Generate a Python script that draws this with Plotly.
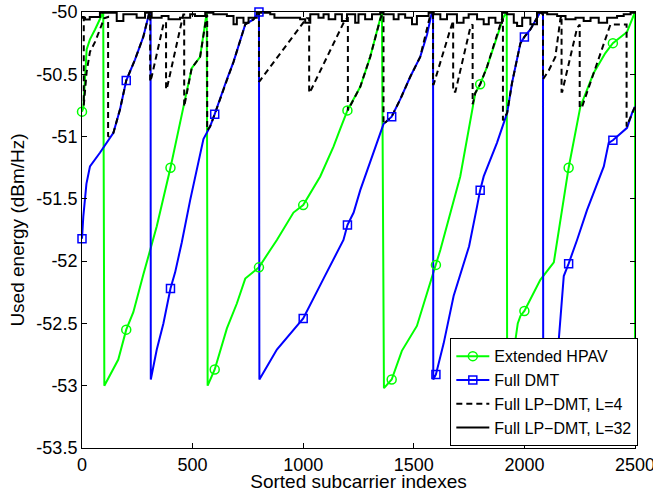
import plotly.graph_objects as go

# ---------------- data ----------------
hpav_x = [0, 6, 21, 36, 59, 96, 101, 164, 200, 232, 277, 338, 400, 458, 496, 534, 564,
          568, 600, 655, 700, 738, 800, 851, 881, 956, 1000, 1077, 1137, 1167, 1200, 1258, 1303, 1356,
          1365, 1400, 1446, 1514, 1560, 1600, 1620, 1710, 1778, 1800, 1831, 1906, 1920,
          1922, 1950, 1970, 1982, 2000, 2072, 2133, 2160, 2200, 2253, 2313, 2366, 2400, 2464, 2500, 2500]
hpav_y = [-50.8, -50.77, -50.3, -50.22, -50.14, -50.0, -53.0, -52.79, -52.55, -52.41, -52.11, -51.72, -51.25, -50.76, -50.45, -50.36, -50.0,
          -53.0, -52.87, -52.54, -52.34, -52.14, -52.05, -51.91, -51.83, -51.61, -51.55, -51.32, -51.08, -50.94, -50.79, -50.6, -50.36, -50.0,
          -53.02, -52.95, -52.72, -52.52, -52.26, -52.03, -51.91, -51.32, -50.65, -50.58, -50.44, -50.04, -50.0,
          -53.0, -52.75, -52.5, -52.44, -52.4, -52.15, -52.01, -51.7, -51.25, -50.76, -50.49, -50.33, -50.25, -50.16, -50.0, -53.0]

dmt_x = [0, 6, 20, 36, 81, 142, 172, 200, 240, 277, 305, 310,
         311, 338, 368, 400, 421, 451, 489, 549, 579, 600, 655, 685, 738, 775, 800,
         802, 881, 1000, 1092, 1152, 1182, 1200, 1228, 1258, 1318, 1363, 1400, 1439, 1484, 1529, 1560, 1582, 1587,
         1588, 1600, 1635, 1680, 1720, 1750, 1786, 1800, 1816, 1876, 1922, 1944, 1982, 2000, 2027, 2072, 2084,
         2085, 2120, 2155, 2178, 2200, 2238, 2283, 2359, 2381, 2400, 2464, 2487, 2500]
dmt_y = [-51.82, -51.64, -51.38, -51.24, -51.13, -50.97, -50.78, -50.55, -50.38, -50.2, -50.0, -50.0,
         -52.95, -52.71, -52.5, -52.22, -52.09, -51.85, -51.51, -51.02, -50.92, -50.82, -50.54, -50.4, -50.1, -50.06, -50.0,
         -52.95, -52.71, -52.46, -52.14, -51.93, -51.83, -51.71, -51.61, -51.43, -51.13, -50.9, -50.84, -50.7, -50.52, -50.36, -50.18, -50.0, -50.0,
         -52.95, -52.91, -52.66, -52.28, -52.05, -51.88, -51.56, -51.43, -51.32, -51.05, -50.81, -50.57, -50.25, -50.2, -50.14, -50.0, -50.0,
         -52.95, -52.83, -52.64, -52.12, -52.02, -51.83, -51.59, -51.24, -51.05, -51.03, -50.93, -50.81, -50.76]

lp4_x = [0, 8, 8, 21, 36, 59, 81, 100, 118, 118, 142, 172, 200, 240, 277, 305, 308,
         308, 315, 368, 380, 380, 383, 458, 462, 462, 496, 534, 564, 566,
         566, 579, 600, 655, 685, 738, 775, 800, 800, 805, 1015, 1027, 1027, 1037, 1190, 1202,
         1202, 1258, 1303, 1348, 1356, 1363, 1363, 1400, 1439, 1484, 1529, 1575, 1587,
         1587, 1590, 1665, 1678, 1678, 1688, 1756, 1766, 1766, 1778, 1800, 1831, 1900, 1903,
         1903, 1922, 1944, 1982, 2000, 2027, 2072, 2084, 2084, 2110, 2140, 2163, 2168,
         2168, 2171, 2238, 2250, 2250, 2261, 2389, 2462, 2462, 2487, 2500]
lp4_y = [-50.04, -50.04, -50.75, -50.48, -50.32, -50.24, -50.14, -50.05, -50.04, -51.0, -50.97, -50.78, -50.55, -50.38, -50.2, -50.0, -50.03,
         -50.56, -50.52, -50.1, -50.08, -50.62, -50.62, -50.02, -50.02, -50.76, -50.45, -50.36, -50.02, -50.03,
         -50.95, -50.92, -50.82, -50.54, -50.4, -50.1, -50.06, -50.0, -50.56, -50.55, -50.05, -50.05, -50.65, -50.62, -50.06, -50.05,
         -50.79, -50.6, -50.36, -50.06, -50.02, -50.02, -50.9, -50.84, -50.7, -50.52, -50.36, -50.02, -50.02,
         -50.58, -50.58, -50.14, -50.07, -50.64, -50.64, -50.12, -50.1, -50.74, -50.65, -50.58, -50.44, -50.05, -50.06,
         -50.87, -50.81, -50.57, -50.25, -50.2, -50.14, -50.0, -50.02, -50.54, -50.47, -50.36, -50.05, -50.03,
         -50.64, -50.64, -50.13, -50.1, -50.77, -50.76, -50.1, -50.1, -50.92, -50.81, -50.76]

lp32_x = [0, 14, 35, 81, 157, 187, 247, 285, 315, 360, 391, 443, 489, 511, 557, 594, 655, 685, 700, 730, 753, 790,
          851, 870, 986, 1009, 1032, 1069, 1092, 1115, 1145, 1175, 1198, 1235, 1250, 1280, 1311, 1348, 1363, 1409,
          1431, 1461, 1492, 1514, 1567, 1590, 1620, 1650, 1695, 1725, 1748, 1786, 1816, 1839, 1869, 1899, 1922,
          1952, 1967, 1990, 2027, 2057, 2103, 2148, 2186, 2231, 2268, 2299, 2336, 2374, 2419, 2449, 2480, 2500]
lp32_y = [-50.046, -50.06, -50.04, -50.006, -50.073, -50.019, -50.046, -50.006, -50.046, -50.032, -50.059, -50.046, -50.019,
          -50.032, -50.006, -50.019, -50.032, -50.099, -50.046, -50.086, -50.046, -50.006,
          -50.019, -50.046, -50.059, -50.086, -50.019, -50.046, -50.019, -50.059, -50.019, -50.073, -50.019, -50.086,
          -50.019, -50.059, -50.019, -50.006, -50.019, -50.059,
          -50.019, -50.046, -50.099, -50.032, -50.006, -50.019, -50.059, -50.019, -50.086, -50.046, -50.019, -50.059,
          -50.099, -50.046, -50.086, -50.006, -50.019,
          -50.086, -50.113, -50.046, -50.099, -50.006, -50.019, -50.032, -50.059, -50.046, -50.073, -50.046, -50.086,
          -50.046, -50.032, -50.019, -50.006, -50.006]

marker_x = [0, 200, 400, 600, 800, 1000, 1200, 1400, 1600, 1800, 2000, 2200, 2400]

x_ticks = [0, 500, 1000, 1500, 2000, 2500]
x_tick_labels = ["0", "500", "1000", "1500", "2000", "2500"]
y_ticks = [-53.5, -53, -52.5, -52, -51.5, -51, -50.5, -50]
y_tick_labels = ["-53.5", "-53", "-52.5", "-52", "-51.5", "-51", "-50.5", "-50"]

names = ["Extended HPAV", "Full DMT", "Full LP\u2212DMT, L=4", "Full LP\u2212DMT, L=32"]


def marker_values(xs, ys, mx):
    return [ys[xs.index(m)] for m in mx]


GREEN = "#00ff00"
BLUE = "#0000ff"
fig = go.Figure()

# lines
fig.add_trace(go.Scatter(x=hpav_x, y=hpav_y, mode="lines", line=dict(color=GREEN, width=2), showlegend=False))
fig.add_trace(go.Scatter(x=dmt_x, y=dmt_y, mode="lines", line=dict(color=BLUE, width=2), showlegend=False))
fig.add_trace(go.Scatter(x=lp4_x, y=lp4_y, mode="lines", line=dict(color="black", width=2, dash="6px,4px"), showlegend=False))
fig.add_trace(go.Scatter(x=lp32_x, y=lp32_y, mode="lines", line=dict(color="black", width=2, shape="hv"), showlegend=False))

# markers
fig.add_trace(go.Scatter(x=marker_x, y=marker_values(hpav_x, hpav_y, marker_x), mode="markers",
                         marker=dict(symbol="circle-open", size=9, color=GREEN, line=dict(width=1.5, color=GREEN)),
                         showlegend=False, cliponaxis=False))
fig.add_trace(go.Scatter(x=marker_x, y=marker_values(dmt_x, dmt_y, marker_x), mode="markers",
                         marker=dict(symbol="square-open", size=8, color=BLUE, line=dict(width=1.5, color=BLUE)),
                         showlegend=False, cliponaxis=False))

# legend entries
fig.add_trace(go.Scatter(x=[None], y=[None], mode="lines+markers", name=names[0],
                         line=dict(color=GREEN, width=2),
                         marker=dict(symbol="circle-open", size=9, color=GREEN, line=dict(width=1.5, color=GREEN))))
fig.add_trace(go.Scatter(x=[None], y=[None], mode="lines+markers", name=names[1],
                         line=dict(color=BLUE, width=2),
                         marker=dict(symbol="square-open", size=8, color=BLUE, line=dict(width=1.5, color=BLUE))))
fig.add_trace(go.Scatter(x=[None], y=[None], mode="lines", name=names[2],
                         line=dict(color="black", width=2, dash="6px,4px")))
fig.add_trace(go.Scatter(x=[None], y=[None], mode="lines", name=names[3],
                         line=dict(color="black", width=2)))

FONT = "Liberation Sans, Arial, Helvetica, sans-serif"
axis_common = dict(showline=True, linecolor="black", linewidth=1, mirror="ticks", ticks="inside",
                   ticklen=5, tickcolor="black", showgrid=False, zeroline=False,
                   ticklabeloverflow="allow",
                   tickfont=dict(family=FONT, size=18, color="black"))

fig.update_layout(
    width=653, height=492,
    margin=dict(l=82, r=18, t=12, b=44, pad=0),
    paper_bgcolor="white", plot_bgcolor="white",
    font=dict(family=FONT, color="black"),
    xaxis=dict(range=[0, 2500], tickvals=x_ticks, ticktext=x_tick_labels,
               title=dict(text="Sorted subcarrier indexes", font=dict(family=FONT, size=19), standoff=0),
               automargin=False, **axis_common),
    yaxis=dict(range=[-53.5, -50], tickvals=y_ticks, ticktext=y_tick_labels,
               title=dict(text="Used energy (dBm/Hz)", font=dict(family=FONT, size=19), standoff=6),
               automargin=False, **axis_common),
    legend=dict(x=1.006, xanchor="right", y=0.004, yanchor="bottom",
                bgcolor="white", bordercolor="black", borderwidth=1,
                font=dict(family=FONT, size=16, color="black"),
                itemwidth=33, tracegroupgap=0),
    showlegend=True,
)

# remove the page's default body margin so the 653x492 figure fills the window exactly
fig.write_html("out.html",
               config={"displayModeBar": False, "staticPlot": True},
               post_script="document.body.style.margin='0';document.body.style.overflow='hidden';")
